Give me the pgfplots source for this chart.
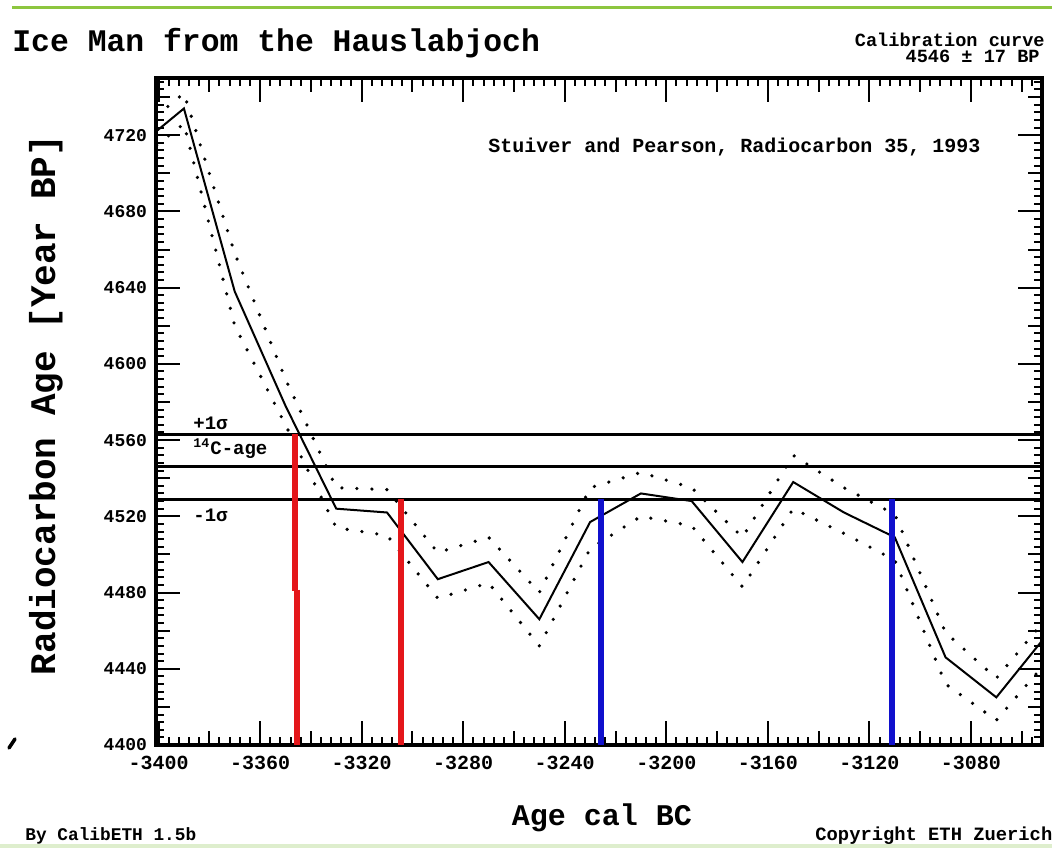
\documentclass[border=0pt]{standalone}
\usepackage{pgfplots}
\pgfplotsset{compat=1.18}
\usepackage{fontspec}
\setmainfont{Liberation Mono}
\definecolor{topgreen}{RGB}{141,198,63}
\definecolor{botgreen}{RGB}{222,238,205}
\definecolor{calred}{RGB}{228,22,26}
\definecolor{calblue}{RGB}{16,16,205}
\begin{document}
\begin{tikzpicture}
\path[use as bounding box] (0,0) rectangle (526pt,424.5pt);
\fill[white] (0,0) rectangle (526pt,424.5pt);
\draw[topgreen, line width=1.5pt] (6pt,420.5pt) -- (526pt,420.5pt);
\draw[botgreen, line width=2pt] (0pt,1.5pt) -- (526pt,1.5pt);
\begin{axis}[
  at={(78pt,52pt)}, anchor=south west,
  scale only axis, width=443pt, height=333.5pt,
  xmin=-3401, xmax=-3052, ymin=4400, ymax=4750,
  axis line style={line width=2pt},
  xtick={-3400,-3360,-3320,-3280,-3240,-3200,-3160,-3120,-3080},
  xticklabels={-3400,-3360,-3320,-3280,-3240,-3200,-3160,-3120,-3080},
  ytick={4400,4440,4480,4520,4560,4600,4640,4680,4720},
  yticklabels={4400,4440,4480,4520,4560,4600,4640,4680,4720},
  minor xtick={-3400,-3396,...,-3052},
  minor ytick={4400,4404,...,4748},
  extra x ticks={-3380,-3340,-3300,-3260,-3220,-3180,-3140,-3100,-3060},
  extra x tick labels={},
  extra y ticks={4420,4460,4500,4540,4580,4620,4660,4700,4740},
  extra y tick labels={},
  extra x tick style={major tick length=7pt},
  extra y tick style={major tick length=7pt},
  major tick length=12pt, minor tick length=4pt,
  tick align=inside,
  every tick/.style={black, line width=1pt},
  yticklabel style={font=\bfseries\fontsize{9}{9}\selectfont, xshift=-1pt},
  xticklabel style={font=\bfseries\fontsize{10}{10}\selectfont, yshift=-2pt},
]
% calibration curve (centre)
\addplot[black, line width=1pt] coordinates {
(-3410,4712) (-3390,4734) (-3370,4638) (-3350,4578) (-3330,4524) (-3310,4522)
(-3290,4487) (-3270,4496) (-3250,4466) (-3230,4517) (-3210,4532) (-3190,4528)
(-3170,4496) (-3150,4538) (-3130,4522) (-3110,4509) (-3090,4446) (-3070,4425) (-3050,4458)};
% upper envelope
\addplot[black, line width=1.8pt, line cap=round, dash pattern=on 0pt off 7.5pt] coordinates {
(-3410,4720) (-3390,4742) (-3370,4658) (-3350,4592) (-3330,4535) (-3310,4534)
(-3290,4501) (-3270,4509) (-3250,4480) (-3230,4535) (-3210,4543) (-3190,4535)
(-3170,4509) (-3150,4552) (-3130,4535) (-3110,4521) (-3090,4459) (-3070,4435) (-3050,4467)};
% lower envelope
\addplot[black, line width=1.8pt, line cap=round, dash pattern=on 0pt off 7.5pt] coordinates {
(-3410,4705) (-3390,4726) (-3370,4620) (-3350,4568) (-3330,4514) (-3310,4510)
(-3290,4477) (-3270,4485) (-3250,4452) (-3230,4503) (-3210,4520) (-3190,4515)
(-3170,4483) (-3150,4524) (-3130,4511) (-3110,4497) (-3090,4432) (-3070,4413) (-3050,4444)};
% 14C age and +-1 sigma
\addplot[black, line width=1.5pt] coordinates {(-3401,4563) (-3052,4563)};
\addplot[black, line width=1.5pt] coordinates {(-3401,4546) (-3052,4546)};
\addplot[black, line width=1.5pt] coordinates {(-3401,4529) (-3052,4529)};
% calibrated ranges
\addplot[calred, line width=3pt] coordinates {(-3346.2,4563) (-3346.2,4481)};
\addplot[calred, line width=3pt] coordinates {(-3345.3,4481.5) (-3345.3,4400)};
\addplot[calred, line width=3pt] coordinates {(-3304.6,4529) (-3304.6,4400)};
\addplot[calblue, line width=3pt] coordinates {(-3225.8,4529) (-3225.8,4400)};
\addplot[calblue, line width=3pt] coordinates {(-3110.9,4529) (-3110.9,4400)};
\end{axis}
% texts
\node[anchor=base west, font=\bfseries\fontsize{15.7}{15.7}\selectfont, inner sep=0pt] at (6pt,398.5pt) {Ice Man from the Hauslabjoch};
\node[anchor=base east, font=\bfseries\fontsize{9.3}{9.3}\selectfont, inner sep=0pt] at (522.5pt,401pt) {Calibration curve};
\node[anchor=base east, font=\bfseries\fontsize{9.3}{9.3}\selectfont, inner sep=0pt] at (520pt,393pt) {4546 ± 17 BP};
\node[anchor=base west, font=\bfseries\fontsize{10}{10}\selectfont, inner sep=0pt] at (244pt,348pt) {Stuiver and Pearson, Radiocarbon 35, 1993};
\node[rotate=90, font=\bfseries\fontsize{18}{18}\selectfont, inner sep=0pt] at (23pt,222pt) {Radiocarbon Age [Year BP]};
\node[anchor=base, font=\bfseries\fontsize{15}{15}\selectfont, inner sep=0pt] at (301pt,11.5pt) {Age cal BC};
\node[anchor=base west, font=\bfseries\fontsize{8.9}{8.9}\selectfont, inner sep=0pt] at (12.5pt,4pt) {By CalibETH 1.5b};
\node[anchor=base west, font=\bfseries\fontsize{9.4}{9.4}\selectfont, inner sep=0pt] at (407.5pt,4pt) {Copyright ETH Zuerich};
\node[anchor=base west, font=\bfseries\fontsize{9.5}{9.5}\selectfont, inner sep=0pt] at (96.5pt,209.5pt) {+1σ};
\node[anchor=base west, font=\bfseries\fontsize{9.5}{9.5}\selectfont, inner sep=0pt] at (96.5pt,197pt) {\textsuperscript{14}C-age};
\node[anchor=base west, font=\bfseries\fontsize{9.5}{9.5}\selectfont, inner sep=0pt] at (96.5pt,163.5pt) {-1σ};
\draw[black, line width=1.8pt, line cap=round] (4.5pt,50.5pt) -- (7.5pt,55pt);
\end{tikzpicture}
\end{document}
